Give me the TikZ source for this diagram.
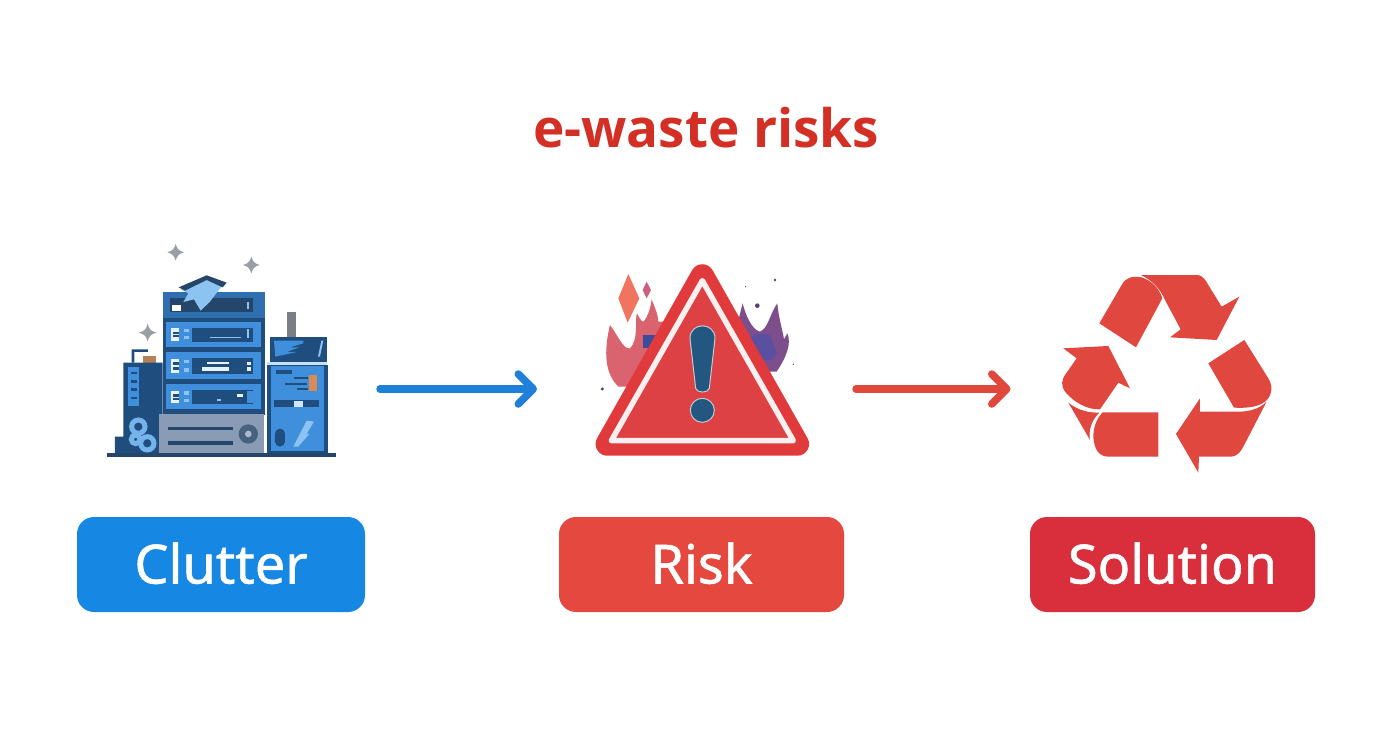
\documentclass[tikz,border=0pt]{standalone}
\usepackage{fontspec}
\setmainfont{Noto Sans}
\newfontfamily\titlefont{Open Sans}
\newfontfamily\labelfont[FakeBold=1]{Noto Sans}
\usetikzlibrary{arrows.meta}
\definecolor{cblue}{HTML}{1787E4}
\definecolor{crisk}{HTML}{E4483E}
\definecolor{csol}{HTML}{D92E3B}
\definecolor{ctitle}{HTML}{D42F24}
\definecolor{arrowblue}{HTML}{1E80D8}
\definecolor{arrowred}{HTML}{E0483C}
\definecolor{navy}{HTML}{1F4E7E}
\definecolor{deep}{HTML}{24466B}
\definecolor{midblue}{HTML}{2F6FB0}
\definecolor{skyblue}{HTML}{3F8FDC}
\definecolor{paleblue}{HTML}{8CC3F0}
\definecolor{greyunit}{HTML}{8A9CB5}
\definecolor{sparkle}{HTML}{9A9FA6}
\definecolor{recy}{HTML}{E0473F}
\definecolor{warn}{HTML}{E03A3C}
\definecolor{warnin}{HTML}{DD4143}
\definecolor{excl}{HTML}{23577F}
\definecolor{tanbox}{HTML}{B5805A}
\definecolor{orangebar}{HTML}{D98A55}
\definecolor{flamepink}{HTML}{D9646F}
\definecolor{flamecore}{HTML}{3C4C9C}
\definecolor{flamepurple}{HTML}{7C4F8C}
\definecolor{flameinner}{HTML}{5A4FA0}
\definecolor{coral}{HTML}{F0745F}
\definecolor{rosy}{HTML}{CC5F80}
\definecolor{speck}{HTML}{5A4070}
\tikzset{
  label box/.style={rounded corners=17pt,minimum height=95pt,inner sep=0pt,text=white,font=\labelfont\fontsize{54}{60}\selectfont},
  label text/.style={inner sep=0pt,text=white,font=\labelfont\fontsize{54}{60}\selectfont},
  icon box/.style={minimum height=190pt,inner sep=0pt,outer sep=0pt},
  flow/.style={line width=7.5pt,line cap=round,-{Straight Barb[round,length=15pt,width=30pt,line width=7.5pt]}},
  zoomA/.style={shift={(90pt,-230pt)},x=0.3333pt,y=-0.3333pt},
  zoomB/.style={shift={(580pt,-250pt)},x=0.3333pt,y=-0.3333pt},
  zoomC/.style={shift={(1050pt,-260pt)},x=0.3333pt,y=-0.3333pt},
  rack/.style={fill=skyblue},
  screen/.style={fill=navy},
  glint/.style={fill=white!88!skyblue},
  recyc/.style={fill=recy},
}
\newcommand{\sparkshape}[3]{\fill[sparkle] (#1,#2-#3) .. controls (#1+5,#2-9) and (#1+9,#2-5) .. (#1+#3,#2) .. controls (#1+9,#2+5) and (#1+5,#2+9) .. (#1,#2+#3) .. controls (#1-5,#2+9) and (#1-9,#2+5) .. (#1-#3,#2) .. controls (#1-9,#2-5) and (#1-5,#2-9) .. cycle;}
\begin{document}
\begin{tikzpicture}[x=1pt,y=-1pt]
\useasboundingbox (0,0) rectangle (1392,752);
\fill[white] (0,0) rectangle (1392,752);

% title
\node[font=\titlefont\fontsize{53}{62}\selectfont\bfseries,text=ctitle,inner sep=0pt] (title) at (706,128) {e-waste risks};

% labels
\node[label box,fill=cblue,minimum width=288pt,text height=40pt,text depth=2pt,yshift=0pt] (clutter) at (221,564.5) {Clutter};
\node[label box,fill=crisk,minimum width=285pt,text height=40pt,text depth=2pt] (risk) at (701.5,564.5) {Risk};
\node[label box,fill=csol,minimum width=285pt,text height=40pt,text depth=2pt] (solution) at (1172.5,564.5) {Solution};

% invisible icon frames
\node[icon box,minimum width=229pt] (iconA) at (221.5,389) {};
\node[icon box,minimum width=215pt] (iconB) at (702.5,389) {};
\node[icon box,minimum width=210pt] (iconC) at (1166.5,389) {};

% connectors
\draw[flow,arrowblue,shorten <=44pt,shorten >=58pt] (iconA.east) -- (iconB.west);
\draw[flow,arrowred,shorten <=46pt,shorten >=51pt] (iconB.east) -- (iconC.west);

% ---------- clutter icon
\begin{scope}[zoomA]
  \sparkshape{257}{67}{25}
  \sparkshape{484}{105}{25}
  \sparkshape{173}{308}{27}
  % antenna
  \fill[sparkle!80!black] (590,247) rectangle (618,322);
  % left tower
  \fill[navy] (125,398) -- (125,358) -- (174,358) -- (174,366) -- (133,366) -- (133,398) -- cycle;
  \fill[tanbox] (158,378) rectangle (198,398);
  \fill[navy] (100,398) -- (218,398) -- (218,672) -- (75,672) -- (75,620) -- (100,620) -- cycle;
  \fill[skyblue] (115,410) rectangle (148,528);
  \foreach \yy in {425,450,475,500} \fill[navy] (122,\yy) rectangle (142,\yy+8);
  \draw[line width=5pt,paleblue!70!skyblue] (145,590) circle[radius=20] (172,640) circle[radius=20] (137,628) circle[radius=13];
  % central stack
  \fill[navy] (218,185) rectangle (525,555);
  \fill[midblue] (218,185) rectangle (525,265);
  \fill[deep] (240,205) rectangle (490,245);
  \fill[white] (247,225) rectangle (272,243);
  \fill[paleblue] (470,215) rectangle (478,238);
  % rack units
  \foreach \yt/\yb in {275/350,367/447,462/538}{
    \fill[rack] (228,\yt) rectangle (512,\yb);
    \fill[screen] (306,\yt+18) rectangle (490,\yb-15);
    \fill[glint] (243,\yt+20) rectangle (268,\yb-18);
    \fill[navy] (250,\yt+30) rectangle (268,\yt+38);
    \fill[navy] (250,\yb-35) rectangle (268,\yb-28);
    \fill[paleblue] (282,\yt+22) rectangle (298,\yt+32);
    \fill[paleblue] (282,\yb-32) rectangle (298,\yb-22);
  }
  \fill[paleblue] (360,320) rectangle (452,325);
  \fill[paleblue] (470,298) rectangle (478,325);
  \fill[glint] (352,395) rectangle (418,402);
  \fill[glint] (335,412) rectangle (418,422);
  \fill[glint] (470,395) rectangle (484,405);
  \fill[glint] (470,412) rectangle (484,422);
  \fill[paleblue] (380,508) rectangle (392,513);
  \fill[glint] (440,493) rectangle (460,501);
  \fill[skyblue] (472,482) rectangle (490,520);
  % cloth
  \fill[paleblue] (272,178) -- (350,148) -- (398,165) -- (360,215) -- (332,242) -- (312,208) -- (280,216) -- (295,190) -- cycle;
  \fill[deep] (266,172) -- (350,136) -- (410,158) -- (398,172) -- (350,150) -- (285,182) -- cycle;
  % grey unit
  \fill[greyunit] (207,553) rectangle (523,672);
  \fill[deep] (235,590) rectangle (428,600);
  \fill[deep] (235,634) rectangle (428,645);
  \fill[deep!85!white] (475,612) circle[radius=29];
  \fill[greyunit!70!white] (475,612) circle[radius=10];
  % right tower
  \fill[navy] (540,320) rectangle (712,395);
  \fill[skyblue] (552,332) -- (640,332) -- (640,340) -- (600,352) -- (628,352) -- (590,366) -- (620,366) -- (556,380) -- cycle;
  \fill[paleblue] (694,332) -- (700,332) -- (690,380) -- (684,380) -- cycle;
  \fill[paleblue!50!white] (532,395) rectangle (712,405);
  \fill[navy] (530,405) rectangle (714,672);
  \fill[skyblue] (542,408) rectangle (702,662);
  \fill[navy] (558,420) rectangle (605,432);
  \fill[navy] (612,440) rectangle (655,446);
  \fill[navy] (585,458) rectangle (650,464);
  \fill[navy] (620,475) rectangle (655,481);
  \fill[orangebar] (658,436) rectangle (682,482);
  \fill[navy] (552,510) rectangle (688,531);
  \fill[paleblue!40!white] (612,514) rectangle (638,531);
  \fill[navy,rounded corners=5pt] (555,596) rectangle (585,650);
  \fill[paleblue] (650,572) -- (672,575) -- (650,612) -- (658,612) -- (625,650) -- (610,650) -- cycle;
  % base line
  \fill[deep] (50,670) rectangle (738,682);
\end{scope}

% ---------- warning icon
\begin{scope}[zoomB]
  \fill[flamepink] (115,410) .. controls (85,380) and (65,330) .. (90,225) .. controls (110,250) and (130,300) .. (150,295) .. controls (175,270) and (165,220) .. (170,190) .. controls (178,200) and (182,215) .. (190,215) .. controls (205,200) and (212,170) .. (215,148) .. controls (225,175) and (235,195) .. (235,215) -- (300,215) -- (200,410) -- cycle;
  \fill[flamecore] (188,255) rectangle (230,295);
  \fill[flamepurple] (488,160) .. controls (495,190) and (515,240) .. (540,245) .. controls (565,235) and (570,190) .. (592,160) .. controls (595,200) and (610,250) .. (612,268) -- (622,250) .. controls (635,280) and (620,320) .. (590,365) -- (520,365) -- (450,210) -- (478,200) -- cycle;
  \fill[flameinner] (530,250) -- (570,255) -- (590,310) -- (575,330) -- (530,330) -- (500,270) -- cycle;
  \fill[coral] (145,72) -- (178,145) -- (143,218) -- (115,145) -- cycle;
  \fill[rosy] (200,95) -- (213,120) -- (200,145) -- (188,120) -- cycle;
  \fill[speck] (67,417) circle[radius=5] (532,167) circle[radius=7] (585,90) circle[radius=4] (497,110) circle[radius=2] (640,343) circle[radius=2];
  \draw[warn,fill=warn,line width=23.5pt,line join=round] (367,78) -- (82,582) -- (652,582) -- cycle;
  \draw[white!92!warn,fill=warnin,line width=5.5pt,line join=round] (367,92) -- (94,572) -- (640,572) -- cycle;
  \draw[line width=1pt,white!70!excl,fill=excl] (330,265) .. controls (330,215) and (405,215) .. (405,265) -- (388,415) .. controls (385,430) and (350,430) .. (347,415) -- cycle;
  \draw[line width=1pt,white!70!excl,fill=excl] (367,481) circle[radius=36];
\end{scope}

% ---------- recycle icon
\begin{scope}[zoomC]
  \fill[recyc] (148,190) -- (215,75) .. controls (228,50) and (250,48) .. (275,52) .. controls (305,62) and (328,85) .. (337,115) -- (258,262) -- cycle;
  \fill[recyc] (272,45) -- (440,45) .. controls (452,45) and (460,52) .. (467,62) -- (515,140) -- (568,110) -- (500,240) -- (360,232) -- (392,208) -- (345,120) .. controls (330,85) and (305,60) .. (272,45) -- cycle;
  \fill[recyc] (475,310) -- (583,240) -- (655,355) .. controls (670,380) and (665,400) .. (655,415) .. controls (635,442) and (590,445) .. (552,443) -- cycle;
  \fill[recyc] (650,425) .. controls (625,450) and (590,456) .. (560,455) -- (450,455) -- (450,415) -- (378,522) -- (445,638) -- (447,590) -- (540,590) .. controls (562,590) and (572,575) .. (580,560) -- cycle;
  \fill[recyc] (325,457) -- (325,590) -- (175,590) .. controls (145,590) and (132,565) .. (130,530) .. controls (130,495) and (145,470) .. (158,457) -- cycle;
  \fill[recyc] (40,265) -- (175,258) -- (240,385) -- (205,368) -- (150,448) .. controls (110,450) and (70,425) .. (45,395) .. controls (32,375) and (35,360) .. (45,345) -- (80,295) -- cycle;
  \fill[recyc] (55,428) .. controls (85,452) and (115,458) .. (148,458) .. controls (125,480) and (115,510) .. (120,540) -- cycle;
\end{scope}
\end{tikzpicture}
\end{document}
